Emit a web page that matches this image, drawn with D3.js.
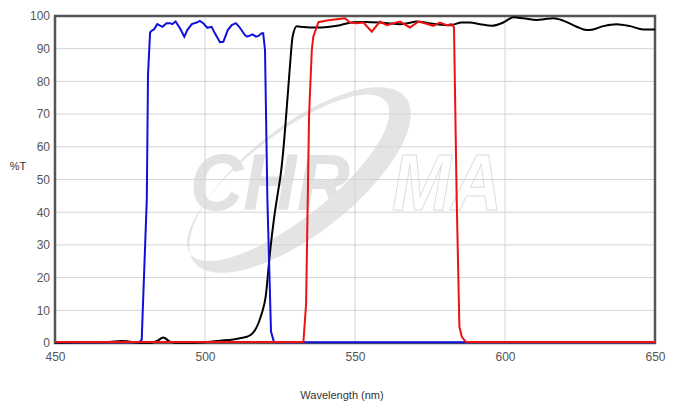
<!DOCTYPE html>
<html><head><meta charset="utf-8">
<script src="https://cdn.jsdelivr.net/npm/d3@7"></script>
<style>body{margin:0;background:#fff}svg{display:block;font-family:"Liberation Sans",Arial,sans-serif}</style>
</head><body><svg id="c" width="676" height="404"></svg>
<script>
const xTicks = [450, 500, 550, 600, 650];
const yTicks = [0,10,20,30,40,50,60,70,80,90,100];

const blueWL = [450,470,478,478.9,480.6,481,481.7,482.2,483,484.1,485.8,487.2,488.3,489.1,490.2,491.7,493.1,494.1,495.6,497.2,498.3,499.4,500.8,502.2,503.3,505,506.1,507.6,508.9,510.3,511.4,513.3,514.1,515.9,517,517.8,518.9,519.4,520,520.8,522,523,535,650];
const blueT  = [0.2,0.2,0.2,1,44,82,95,95.5,95.9,97.5,96.7,97.8,97.8,97.5,98.3,96.2,93.7,95.7,97.5,98.0,98.5,97.8,96.4,96.7,94.7,92.0,92.1,95.7,97.2,97.8,96.7,94.2,93.7,94.4,93.7,93.9,94.7,94.7,89.6,43.7,3.5,0.2,0.2,0.2];

const blackWL = [450,460,468,472,474,476,478,482,484,486.1,488,490,495,501.7,505,509.4,512,513.9,515.5,516.7,518,518.9,520.2,521.7,523,524.3,525.3,526.1,527.2,528.3,529.2,530.6,532.8,535,538.3,542.8,545,549.4,553,558.3,561,565,567.5,570.6,574,577.2,581.7,585.6,588.3,591.7,595.6,599.4,602.8,606.1,610.6,613,616.1,619.4,623.9,627.2,629.4,632.8,637.2,641.7,646.1,650];
const blackT  = [0.1,0.2,0.3,0.6,0.5,0.2,0.1,0.1,0.6,1.7,0.6,0.1,0.1,0.4,0.7,1.1,1.5,1.9,2.7,4,6.5,9,14,28,38,46,52,59,71.3,84.5,93.7,96.9,96.6,96.5,96.5,96.9,97.2,98.1,98.2,98.0,97.8,97.5,97.8,98.3,97.9,97.5,97.2,98.0,98.0,97.5,97.0,98.0,99.6,99.3,98.8,99.0,99.3,98.6,96.7,95.7,95.9,96.9,97.5,96.9,95.9,95.9];

const redWL = [450,500,530,532.8,533.7,534.7,535.6,536.1,537.8,540.6,543.9,546.7,548.3,550.6,552.8,555.6,558.3,560.6,562.8,565,568.3,571.1,573.3,576.1,578.3,580.6,582.2,583,583.9,584.8,585.6,587,600,650];
const redT  = [0.3,0.3,0.3,0.3,12,70,89.6,93.7,98.1,98.6,99.0,99.3,98.0,97.8,98.0,95.2,98.3,97.2,97.8,98.3,96.5,98.3,97.8,97.0,98.0,97.2,97.5,96.5,43.7,5,1.9,0.3,0.3,0.3];

const svg = d3.select("#c");
const L=55, R=655, T=16, B=343;
const x = d3.scaleLinear().domain([450,650]).range([L,R]);
const y = d3.scaleLinear().domain([0,100]).range([B,T]);

// watermark
const wm = svg.append("g");
wm.append("text").attr("x",190).attr("y",210).attr("font-size",79).attr("font-weight","bold")
  .attr("font-style","italic").attr("fill","#e2e2e2").attr("textLength",160).attr("lengthAdjust","spacingAndGlyphs").text("CHR");
// swoosh crescent
(function(){
  const cx=300, cy=180, ang=-38*Math.PI/180;
  function ell(rx,ry,dx,dy,rev){
    const pts=[];
    for(let i=0;i<=120;i++){
      const t=(rev?-1:1)*i/120*2*Math.PI;
      const ex=rx*Math.cos(t)+dx, ey=ry*Math.sin(t)+dy;
      pts.push([cx+ex*Math.cos(ang)-ey*Math.sin(ang), cy+ex*Math.sin(ang)+ey*Math.cos(ang)]);
    }
    return "M"+pts.map(p=>p[0].toFixed(1)+","+p[1].toFixed(1)).join("L")+"Z";
  }
  wm.append("path").attr("d", ell(134,54,0,0,false)+ell(124,42,-8,-9,true))
    .attr("fill","#e4e4e4").attr("fill-rule","evenodd");
})();
wm.append("text").attr("x",392).attr("y",210).attr("font-size",79).attr("font-weight","bold")
  .attr("font-style","italic").attr("fill","none").attr("stroke","#dcdcdc").attr("stroke-width",1)
  .attr("textLength",110).attr("lengthAdjust","spacingAndGlyphs").text("MA");

// grid
svg.append("g").selectAll("line").data(yTicks.slice(1,-1)).join("line")
  .attr("x1",L).attr("x2",R).attr("y1",d=>y(d)).attr("y2",d=>y(d)).attr("stroke","#d4d4d4").attr("stroke-width",1);
svg.append("g").selectAll("line").data(xTicks.slice(1,-1)).join("line")
  .attr("y1",T).attr("y2",B).attr("x1",d=>x(d)).attr("x2",d=>x(d)).attr("stroke","#d4d4d4").attr("stroke-width",1);

// frame
svg.append("rect").attr("x",L).attr("y",T).attr("width",R-L).attr("height",B-T)
  .attr("fill","none").attr("stroke","#555").attr("stroke-width",2.5);

// axes labels
const yAxis = d3.axisLeft(y).tickValues(yTicks).tickSize(0).tickPadding(5);
const gy = svg.append("g").attr("transform",`translate(${L},0)`).call(yAxis);
gy.select(".domain").remove();
gy.selectAll("text").attr("font-size",12).attr("fill","#555").attr("font-family","Liberation Sans, Arial, sans-serif");
const xAxis = d3.axisBottom(x).tickValues(xTicks).tickSize(0).tickPadding(9);
const gx = svg.append("g").attr("transform",`translate(0,${B})`).call(xAxis);
gx.select(".domain").remove();
gx.selectAll("text").attr("font-size",12).attr("fill","#555").attr("font-family","Liberation Sans, Arial, sans-serif");

svg.append("text").attr("x",18).attr("y",170).attr("text-anchor","middle").attr("font-size",11).attr("fill","#333").text("%T");
svg.append("text").attr("x",342).attr("y",399).attr("text-anchor","middle").attr("font-size",11).attr("fill","#333").text("Wavelength (nm)");

// curves
const line = (curve)=>d3.line().x(d=>x(d[0])).y(d=>y(d[1])).curve(curve);
const zip=(a,b)=>a.map((v,i)=>[v,b[i]]);
const plot = svg.append("g");
plot.append("path").attr("d",line(d3.curveMonotoneX)(zip(blackWL,blackT))).attr("fill","none").attr("stroke","#000").attr("stroke-width",2);
plot.append("path").attr("d",line(d3.curveLinear)(zip(blueWL,blueT))).attr("fill","none").attr("stroke","#1010dd").attr("stroke-width",2);
plot.append("path").attr("d",line(d3.curveLinear)(zip(redWL,redT))).attr("fill","none").attr("stroke","#ee1111").attr("stroke-width",2);
</script></body></html>
